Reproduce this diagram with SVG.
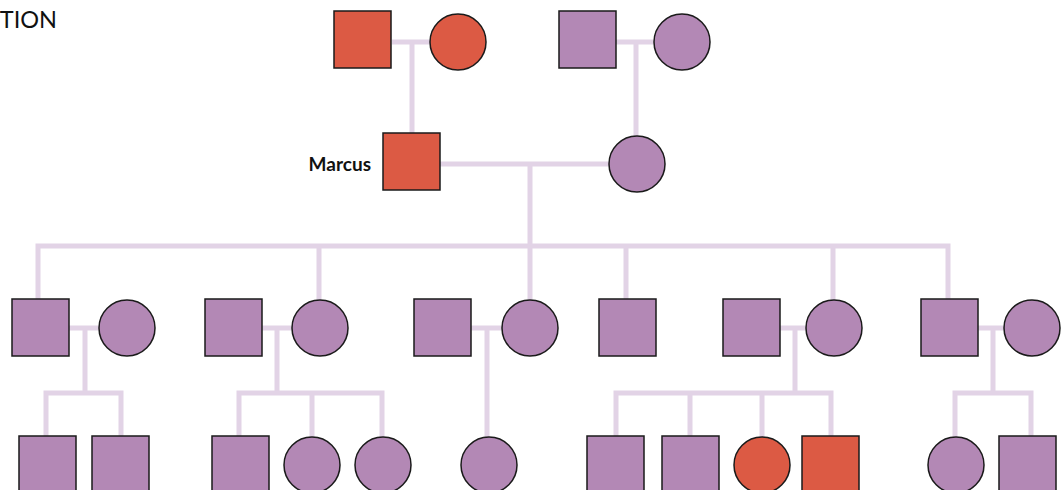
<svg xmlns="http://www.w3.org/2000/svg" width="1061" height="490" viewBox="0 0 1061 490">
<style>
.c{fill:none;stroke:#E2D3E6;stroke-width:5;stroke-linejoin:miter;stroke-linecap:butt}
.p{fill:#B388B5;stroke:#1a1a1a;stroke-width:1.5}
.r{fill:#DC5A44;stroke:#1a1a1a;stroke-width:1.5}
.t{font-family:Lato,"Open Sans","Liberation Sans",sans-serif;fill:#111}
</style>
<rect width="1061" height="490" fill="#fff"/>
<text class="t" x="57" y="28" font-size="23.5" text-anchor="end">TION</text>
<g id="connectors">
<path class="c" d="M392 42H430M412 42V133"/>
<path class="c" d="M616 42H654M636 42V137"/>
<path class="c" d="M440 164H609M530 164V246"/>
<path class="c" d="M38 299V246H948V299M319 246V300M530 246V300M626 246V299M833 246V300"/>
<path class="c" d="M69 328H99M85 328V393M46 436V393H121V436"/>
<path class="c" d="M262 328H292M277 328V393M239 436V393H382V437M312 393V437"/>
<path class="c" d="M471 328H502M487 328V437"/>
<path class="c" d="M780 328H806M795 328V393M616 436V393H831V436M690 393V436M762 393V437"/>
<path class="c" d="M978 328H1004M993 328V393M955 437V393H1031V436"/>
</g>
<g id="gp1-m"><rect class="r" x="334" y="11" width="57" height="57"/></g>
<g id="gp1-f"><circle class="r" cx="458" cy="42" r="28"/></g>
<g id="gp2-m"><rect class="p" x="559" y="11" width="57" height="57"/></g>
<g id="gp2-f"><circle class="p" cx="682" cy="42" r="28"/></g>
<g id="marcus"><rect class="r" x="383" y="133" width="57" height="57"/><text class="t" x="371" y="171" font-size="19" font-weight="bold" text-anchor="end">Marcus</text></g>
<g id="wife"><circle class="p" cx="637" cy="164" r="28"/></g>
<g id="c1"><rect class="p" x="12" y="299" width="57" height="57"/></g>
<g id="c1s"><circle class="p" cx="127" cy="328" r="28"/></g>
<g id="c2"><rect class="p" x="205" y="299" width="57" height="57"/></g>
<g id="c2s"><circle class="p" cx="320" cy="328" r="28"/></g>
<g id="c3s"><rect class="p" x="414" y="299" width="57" height="57"/></g>
<g id="c3"><circle class="p" cx="530" cy="328" r="28"/></g>
<g id="c4"><rect class="p" x="599" y="299" width="57" height="57"/></g>
<g id="c5s"><rect class="p" x="723" y="299" width="57" height="57"/></g>
<g id="c5"><circle class="p" cx="834" cy="328" r="28"/></g>
<g id="c6"><rect class="p" x="921" y="299" width="57" height="57"/></g>
<g id="c6s"><circle class="p" cx="1032" cy="328" r="28"/></g>
<g id="g1"><rect class="p" x="19" y="436" width="57" height="57"/></g>
<g id="g2"><rect class="p" x="92" y="436" width="57" height="57"/></g>
<g id="g3"><rect class="p" x="212" y="436" width="57" height="57"/></g>
<g id="g4"><circle class="p" cx="312" cy="465" r="28"/></g>
<g id="g5"><circle class="p" cx="383" cy="465" r="28"/></g>
<g id="g6"><circle class="p" cx="489" cy="465" r="28"/></g>
<g id="g7"><rect class="p" x="587" y="436" width="57" height="57"/></g>
<g id="g8"><rect class="p" x="662" y="436" width="57" height="57"/></g>
<g id="g9"><circle class="r" cx="762" cy="465" r="28"/></g>
<g id="g10"><rect class="r" x="802" y="436" width="57" height="57"/></g>
<g id="g11"><circle class="p" cx="956" cy="465" r="28"/></g>
<g id="g12"><rect class="p" x="999" y="436" width="57" height="57"/></g>
</svg>
